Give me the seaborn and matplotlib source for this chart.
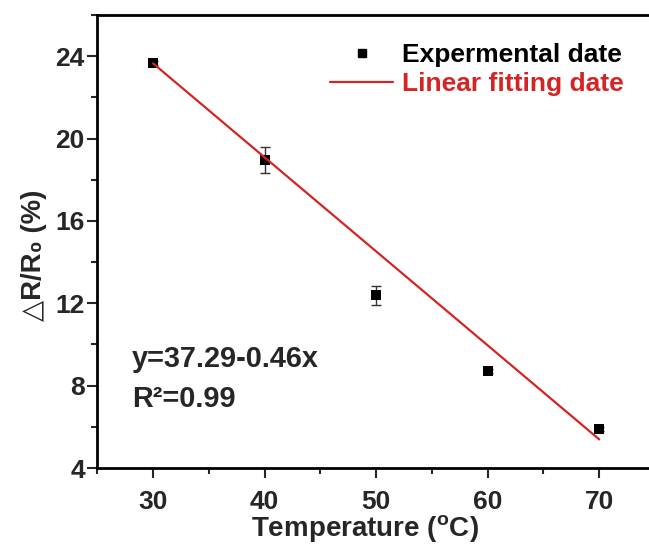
import matplotlib
matplotlib.use("Agg")
import matplotlib.pyplot as plt
from matplotlib.lines import Line2D
from matplotlib.ticker import MultipleLocator
import seaborn as sns
import pandas as pd

# ---- data ----
temperature = [30, 40, 50, 60, 70]
delta_r = [23.69, 18.98, 12.39, 8.72, 5.88]
delta_r_err = [0.10, 0.63, 0.45, 0.10, 0.10]
fit_x = [30, 70]
fit_y = [23.65, 5.39]
x_ticks = [30, 40, 50, 60, 70]
y_ticks = [4, 8, 12, 16, 20, 24]

sns.set_style("ticks")
FAM = ["Liberation Sans", "DejaVu Sans"]
plt.rcParams["font.family"] = FAM
plt.rcParams["font.weight"] = "bold"
plt.rcParams["mathtext.fontset"] = "custom"
plt.rcParams["mathtext.rm"] = "Liberation Sans:bold"
plt.rcParams["mathtext.bf"] = "Liberation Sans:bold"

RED = "#d42424"

fig = plt.figure(figsize=(6.49, 5.45), dpi=100)
W, H = 649, 545
x0, x1, y0, y1 = 97.3, 655.0, 15.0, 468.0
ax = fig.add_axes([x0 / W, (H - y1) / H, (x1 - x0) / W, (y1 - y0) / H])

df = pd.DataFrame({"T": temperature, "R": delta_r, "err": delta_r_err})
fit = pd.DataFrame({"T": fit_x, "R": fit_y})

ax.errorbar(df["T"], df["R"], yerr=df["err"], fmt="none", ecolor="#333333",
            elinewidth=1.0, capsize=3.3, capthick=1.0, zorder=2)
sns.scatterplot(data=df, x="T", y="R", marker="s", s=52, color="black",
                edgecolor="black", linewidth=0, ax=ax, zorder=3, legend=False)
sns.lineplot(data=fit, x="T", y="R", color=RED, linewidth=1.6, ax=ax,
             zorder=4, legend=False)

ax.set_xlim(25, 75)
ax.set_ylim(4, 26)
ax.set_xticks(x_ticks)
ax.set_yticks(y_ticks)
ax.xaxis.set_minor_locator(MultipleLocator(5))
ax.yaxis.set_minor_locator(MultipleLocator(2))
ax.tick_params(which="major", direction="out", length=7, width=1.5,
               labelsize=19, pad=2)
ax.tick_params(axis="x", which="major", pad=9)
ax.tick_params(which="minor", direction="out", length=4, width=1.5)
ax.tick_params(axis="x", which="both", top=False)
ax.tick_params(axis="y", which="both", right=False)
for lab in ax.get_xticklabels() + ax.get_yticklabels():
    lab.set_fontweight("bold")
for sp in ax.spines.values():
    sp.set_linewidth(2.0)
    sp.set_color("black")

ax.set_xlabel(r"Temperature ($^{\mathrm{o}}$C)", fontsize=20, fontweight="bold", va="center")
ax.xaxis.set_label_coords(0.48, -(529.5 - y1) / (y1 - y0))
ax.set_ylabel("△R/R₀ (%)", fontsize=19.8, fontweight="bold", va="center")
ax.yaxis.set_label_coords((34 - x0) / (x1 - x0), (y1 - 255) / (y1 - y0))

ax.text(0.0617, 0.2236, "y=37.29-0.46x", transform=ax.transAxes,
        fontsize=20.8, fontweight="bold", va="baseline", ha="left")
ax.text(0.0617, 0.1353, "R²=0.99", transform=ax.transAxes,
        fontsize=20.8, fontweight="bold", va="baseline", ha="left")

handles = [
    Line2D([], [], marker="s", linestyle="none", color="black", markersize=6.0),
    Line2D([], [], color=RED, linewidth=1.6),
]
leg = ax.legend(handles, ["Expermental date", "Linear fitting date"],
                loc="upper left",
                bbox_to_anchor=((330 - x0) / (x1 - x0), (y1 - 43) / (y1 - y0)),
                frameon=False, handlelength=2.4, handletextpad=0.34,
                labelspacing=0.2, borderaxespad=0, borderpad=0,
                labelcolor=["black", RED], prop={"weight": "bold", "size": 19})

fig.savefig("out.png", dpi=100)
